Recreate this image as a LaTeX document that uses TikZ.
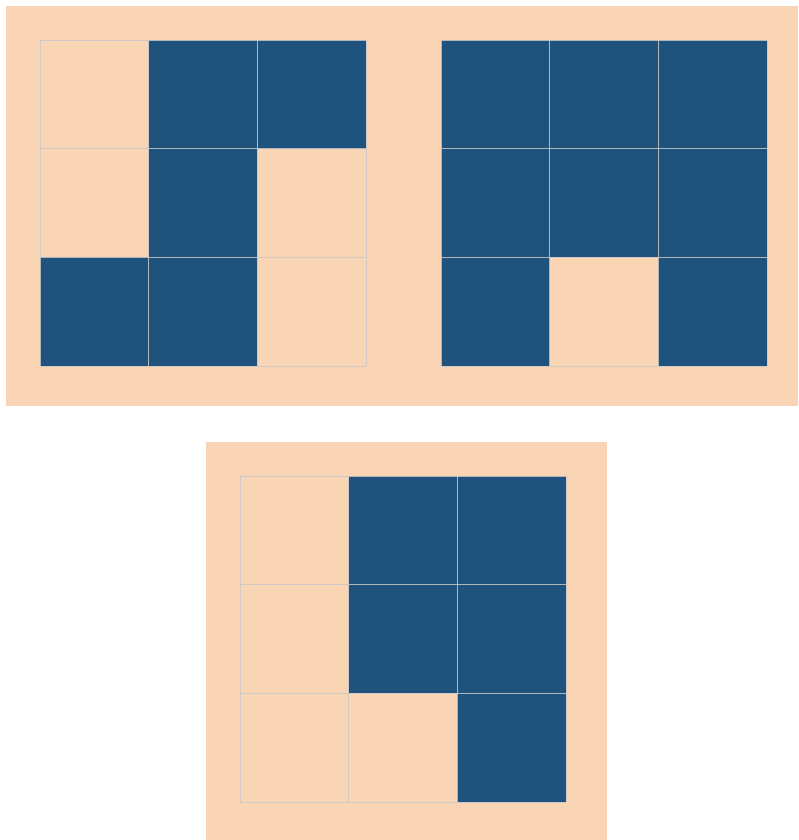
\documentclass[tikz,border=0pt]{standalone}
\usepackage{tikz}
\usetikzlibrary{positioning}
\definecolor{peach}{HTML}{FAD5B5}
\definecolor{navy}{HTML}{1F527D}
\definecolor{gridgray}{HTML}{C9C9C9}
\tikzset{
  panel/.style={fill=peach},
  dark/.style={fill=navy},
  gline/.style={draw=gridgray,line width=0.7pt,opacity=0.85},
}
\newcommand{\cs}{108.67}

\begin{document}
\begin{tikzpicture}[x=0.03cm,y=-0.03cm]
  \useasboundingbox (0,0) rectangle (798,840);
  % backgrounds
  \fill[panel] (6,6) rectangle (798,406);
  \fill[panel] (206,442) rectangle (607,840);
  % left grid
  \begin{scope}[shift={(40,40)}]
    \foreach \c/\r in {1/0,2/0,1/1,0/2,1/2}{\fill[dark] (\c*\cs,\r*\cs) rectangle ++(\cs,\cs);}
    \foreach \i in {0,...,3}{
      \draw[gline] (\i*\cs,0) -- (\i*\cs,3*\cs);
      \draw[gline] (0,\i*\cs) -- (3*\cs,\i*\cs);
    }
  \end{scope}
  % right grid
  \begin{scope}[shift={(441,40)}]
    \foreach \c/\r in {0/0,1/0,2/0,0/1,1/1,2/1,0/2,2/2}{\fill[dark] (\c*\cs,\r*\cs) rectangle ++(\cs,\cs);}
    \foreach \i in {0,...,3}{
      \draw[gline] (\i*\cs,0) -- (\i*\cs,3*\cs);
      \draw[gline] (0,\i*\cs) -- (3*\cs,\i*\cs);
    }
  \end{scope}
  % bottom grid
  \begin{scope}[shift={(240,476)}]
    \foreach \c/\r in {1/0,2/0,1/1,2/1,2/2}{\fill[dark] (\c*\cs,\r*\cs) rectangle ++(\cs,\cs);}
    \foreach \i in {0,...,3}{
      \draw[gline] (\i*\cs,0) -- (\i*\cs,3*\cs);
      \draw[gline] (0,\i*\cs) -- (3*\cs,\i*\cs);
    }
  \end{scope}
\end{tikzpicture}
\end{document}
